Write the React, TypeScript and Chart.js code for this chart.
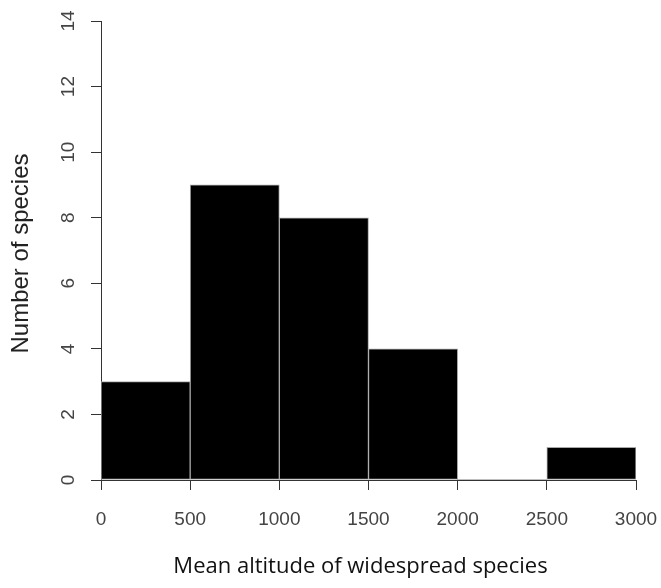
import React, { useEffect, useRef } from "react";
import { Chart, registerables } from "chart.js";

Chart.register(...registerables);

// Histogram bins (mean altitude, m) and counts
const binStarts = [0, 500, 1000, 1500, 2000, 2500];
const binEnds = [500, 1000, 1500, 2000, 2500, 3000];
const counts = [3, 9, 8, 4, 0, 1];

const xTicks = [0, 500, 1000, 1500, 2000, 2500, 3000];
const yTicks = [0, 2, 4, 6, 8, 10, 12, 14];

const xTitle = "Mean altitude of widespread species";
const yTitle = "Number of species";

const TICK_FONT = '19px "Liberation Sans", Arial, sans-serif';
const AXIS_COLOR = "#333333";
const LABEL_COLOR = "#444444";

const labelPlugin = {
  id: "rLabels",
  afterDraw(chart: any) {
    const ctx = chart.ctx;
    const xs = chart.scales.x;
    const ys = chart.scales.y;
    const area = chart.chartArea;
    ctx.save();
    // x tick labels
    ctx.fillStyle = LABEL_COLOR;
    ctx.font = TICK_FONT;
    ctx.textAlign = "center";
    ctx.textBaseline = "middle";
    xTicks.forEach((v) => {
      ctx.fillText(String(v), xs.getPixelForValue(v), area.bottom + 40);
    });
    // y tick labels (rotated, reading upward)
    yTicks.forEach((v) => {
      const py = ys.getPixelForValue(v);
      ctx.save();
      ctx.translate(area.left - 32, py);
      ctx.rotate(-Math.PI / 2);
      ctx.fillText(String(v), 0, 0);
      ctx.restore();
    });
    // y title
    ctx.fillStyle = "#222222";
    ctx.font = '24px "Liberation Sans", Arial, sans-serif';
    ctx.save();
    ctx.translate(21, (area.top + area.bottom) / 2 + 3);
    ctx.rotate(-Math.PI / 2);
    ctx.textBaseline = "middle";
    ctx.fillText(yTitle, 0, 0);
    ctx.restore();
    // x title
    ctx.fillStyle = "#111111";
    ctx.font = '22px "Open Sans", sans-serif';
    ctx.textAlign = "center";
    ctx.textBaseline = "alphabetic";
    ctx.fillText(xTitle, (area.left + area.right) / 2 - 8, area.bottom + 93);
    ctx.restore();
  },
};

export default function App() {
  const ref = useRef<HTMLCanvasElement | null>(null);

  useEffect(() => {
    if (!ref.current) return;
    const data = binStarts.map((s, i) => ({ x: (s + binEnds[i]) / 2, y: counts[i] }));
    const chart = new Chart(ref.current, {
      type: "bar",
      data: {
        datasets: [
          {
            data: data as any,
            backgroundColor: "#000000",
            borderColor: "#a8a8a8",
            borderWidth: counts.map((c) => (c > 0 ? 1 : 0)),
            borderSkipped: false,
            barPercentage: 1,
            categoryPercentage: 1,
          },
        ],
      },
      options: {
        responsive: false,
        animation: false,
        layout: { padding: { top: 21, right: 25, left: 0, bottom: 0 } },
        plugins: {
          legend: { display: false },
          tooltip: { enabled: false },
        },
        scales: {
          x: {
            type: "linear",
            offset: false,
            min: 0,
            max: 3000,
            ticks: { display: false, stepSize: 500 },
            grid: {
              drawOnChartArea: false,
              drawTicks: true,
              tickLength: 10,
              color: AXIS_COLOR,
              offset: false,
            },
            border: { display: true, color: AXIS_COLOR, width: 1 },
            afterFit: (scale: any) => {
              scale.height = 108;
            },
          },
          y: {
            min: 0,
            max: 14,
            ticks: { display: false, stepSize: 2 },
            grid: {
              drawOnChartArea: false,
              drawTicks: true,
              tickLength: 10,
              color: AXIS_COLOR,
            },
            border: { display: true, color: AXIS_COLOR, width: 1 },
            afterFit: (scale: any) => {
              scale.width = 101;
            },
          },
        },
      } as any,
      plugins: [labelPlugin],
    });
    return () => chart.destroy();
  }, []);

  return (
    <div style={{ position: "absolute", left: 0, top: 0, width: 661, height: 588, background: "#fff" }}>
      <canvas ref={ref} width={661} height={588} style={{ display: "block" }} />
    </div>
  );
}
